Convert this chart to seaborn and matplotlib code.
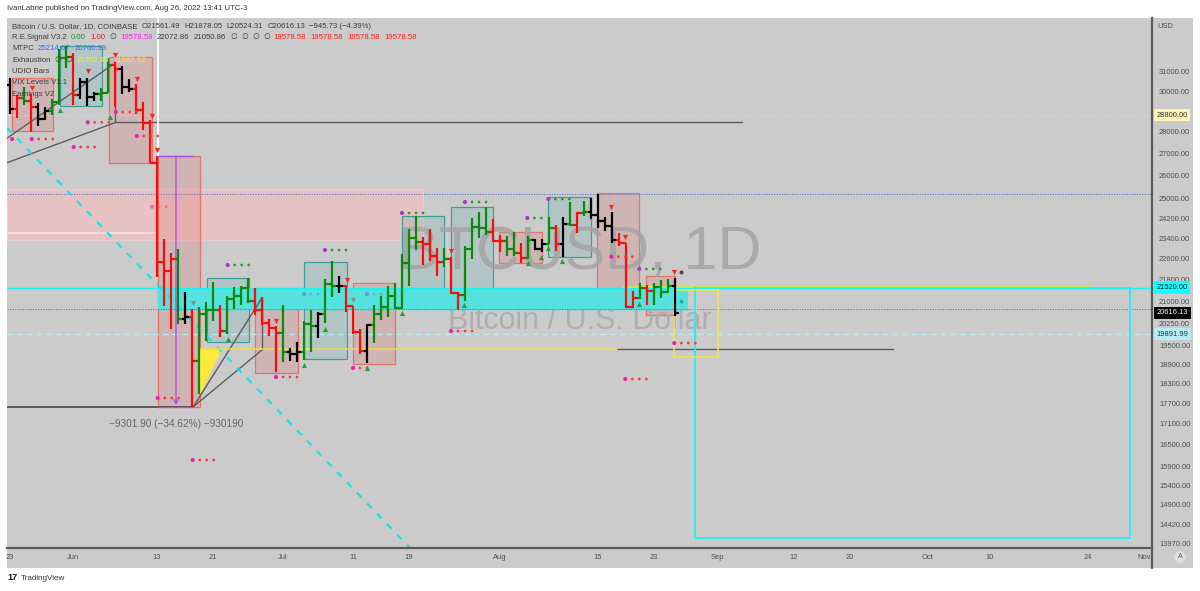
import numpy as np
import pandas as pd
import matplotlib
matplotlib.use("Agg")
import matplotlib.pyplot as plt
import matplotlib.ticker as mticker
import matplotlib.transforms as mtransforms
from matplotlib.patches import Rectangle, Polygon
from matplotlib.lines import Line2D
import seaborn as sns

# ------------------------------------------------------------------ data
BASE = "2022-05-23"
dates = pd.date_range(BASE, "2022-08-26", freq="D")

opens = [30285, 29100, 29650, 29520, 29200, 28620, 29020, 29450, 31730, 31800,
         29800, 30460, 29700, 29850, 29900, 31370, 31140, 30200, 30110, 29080,
         28420, 26580, 22487, 22136, 22583, 20401, 20468, 19018, 20573, 20720,
         20720, 19980, 21110, 21220, 21490, 21040, 20730, 20260, 20100, 19930,
         19290, 19240, 19300, 20240, 20180, 20570, 21640, 21590, 21590, 20860,
         19960, 19320, 20210, 20580, 20830, 21200, 20790, 22430, 23400, 23230,
         23160, 22680, 22460, 22580, 21310, 21250, 22950, 23850, 23780, 23640,
         23300, 23270, 22980, 22820, 22620, 23320, 22960, 23170, 23810, 23160,
         23950, 23940, 24400, 24440, 24310, 24100, 23860, 23340, 23200, 20830,
         21140, 21520, 21400, 21530, 21370, 21561.49]
highs = [30670, 29810, 30200, 29850, 29380, 29200, 29580, 32200, 32400, 31980,
         30650, 30680, 29950, 30150, 31750, 31560, 31320, 30640, 30360, 29440,
         28560, 26895, 23362, 22800, 22980, 21365, 20770, 20810, 21000, 21720,
         20880, 21230, 21540, 21580, 21860, 21500, 21190, 20400, 20180, 20880,
         19430, 19640, 20340, 20730, 20640, 21840, 22500, 21950, 21600, 20870,
         20050, 20250, 20880, 21200, 21580, 21680, 22780, 23760, 24280, 23440,
         23770, 22990, 23010, 22650, 21350, 23100, 24200, 24450, 24660, 24170,
         23500, 23460, 23650, 23220, 23460, 23360, 23380, 24250, 23920, 24230,
         24890, 24450, 24900, 25050, 25210, 24250, 24440, 23600, 23200, 21380,
         21690, 21600, 21680, 21800, 21820, 21878.05]
lows = [28860, 28660, 29320, 28010, 28270, 28560, 28800, 29300, 31200, 29300,
        29580, 29270, 29490, 29490, 29880, 29220, 29850, 29950, 28880, 28100,
        26560, 21925, 20846, 20071, 20238, 20250, 17592, 17960, 19650, 20350,
        19790, 19900, 20740, 20880, 20960, 20530, 20200, 19840, 18640, 18970,
        19000, 18980, 19050, 19310, 19770, 20260, 21190, 21340, 20650, 19880,
        19240, 18930, 19600, 20380, 20480, 20760, 20770, 21580, 22920, 22340,
        22510, 21960, 22280, 21270, 20720, 21040, 22600, 23400, 23520, 23230,
        22850, 22680, 22700, 22440, 22590, 22920, 22860, 23150, 22880, 22670,
        23900, 23600, 24300, 24150, 23790, 23690, 23190, 23100, 20780, 20800,
        21100, 20880, 20900, 21150, 21310, 20524.31]
closes = opens[1:] + [20616.13]

# bar colouring state of the "UDIO Bars" study: g = up, r = down, k = neutral
bar_state = ("krgrkkgggr" "kkkggrkkrrr" "rrrgkrgggr" "ggggrrrrgk" "kggkggkrrr"
             "kgggggggrr" "rgrrggggrr" "ggrgkkgrkg" "rgkkkkrrrg" "rgggk")

# price levels shown on the right scale
price_ticks = [31000, 30000, 28000, 27000, 26000, 25000, 24200, 23400,
               22600, 21800, 21000, 20250, 19500, 18900, 18300, 17700, 17100,
               16500, 15900, 15400, 14900, 14420, 13970]
marked_levels = [28800.00, 21520.00, 20616.13, 19891.99]

# date axis labels
date_ticks = ["2022-05-23", "2022-06-01", "2022-06-13", "2022-06-21", "2022-07-01",
              "2022-07-11", "2022-07-19", "2022-08-01", "2022-08-15", "2022-08-23",
              "2022-09-01", "2022-09-12", "2022-09-20", "2022-10-01", "2022-10-10",
              "2022-10-24", "2022-11-01"]
date_labels = ["23", "Jun", "13", "21", "Jul", "11", "19", "Aug", "15", "23",
               "Sep", "12", "20", "Oct", "10", "24", "Nov"]

# indicator levels
mtpc_levels = [25214.67, 20760.93]
zone_top, zone_bot = 21520.00, 20760.93
supply_top, supply_bot = 25420, 23320
measure_hi, measure_lo = 26881, 17592

# boxes: day-index start, end, top price, bottom price, kind
box_x0 = [0.24, 7.14, 14.14, 21.14, 28.14, 35.0, 42.0, 49.0, 55.96, 63.0, 69.9, 76.9, 83.9, 90.86]
box_x1 = [6.19, 13.14, 20.29, 27.14, 34.14, 41.14, 48.14, 55.0, 62.04, 69.0, 75.96, 82.96, 89.9, 95.0]
box_top = [30672, 32377, 31780, 26881, 21869, 20752, 22469, 21685, 24287, 24672, 23651, 25067, 25237, 21944]
box_bot = [28042, 29253, 26566, 17592, 19626, 18624, 19070, 18909, 20777, 20777, 22420, 22672, 20777, 20543]
box_kind = ["r", "t", "r", "r", "t", "r", "t", "r", "t", "t", "r", "t", "r", "r"]

# signal dot rows: first day, price, kind, count
dot_day = [0.3, 3.1, 9.1, 11.1, 15.1, 18.1, 20.3, 21.1, 31.1, 38.0, 45.0, 49.0, 56.0,
           65.0, 73.9, 63.0, 76.9, 85.9, 89.9, 94.9, 87.9, 26.1, 42.0, 51.0]
dot_price = [27665, 27665, 27293, 28458, 28958, 27806, 24672, 17853, 22356, 18498, 22930,
             18782, 24411, 24869, 24205, 19995, 24995, 22672, 22205, 19590, 18436, 16076,
             21286, 21286]
dot_kind = ["r", "r", "r", "r", "r", "r", "p", "r", "g", "r", "g", "r", "g",
            "g", "g", "r", "g", "r", "g", "r", "r", "r", "b", "b"]
dot_count = [1, 4, 4, 4, 4, 4, 3, 4, 4, 4, 4, 3, 4, 4, 3, 4, 4, 4, 4, 4, 4, 4, 3, 3]

# exhaustion triangles
sell_day = [3.1, 11.1, 15.0, 18.1, 20.3, 21.0, 38.0, 48.1, 63.0, 85.9, 87.9, 94.9]
sell_price = [30157, 31037, 31888, 30620, 28780, 27155, 20336, 21796, 22891, 24672, 23439, 22092]
weak_day = [26.1, 49.0]
weak_price = [20964, 21071]
buy_day = [7.1, 14.3, 31.1, 42.0, 45.0, 51.0, 56.0, 64.9, 74.0, 75.9, 76.9, 78.9, 89.9]
buy_price = [29056, 28714, 19726, 18877, 20062, 18782, 20612, 20894, 22420, 22660, 23008, 22508, 20930]

# drawn trend lines (day, price) pairs
gray_segments = [((-0.43, 27700), (14.6, 31353)),
                 ((15.0, 31353), (15.0, 28458)),
                 ((-0.43, 26578), (15.14, 28458)),
                 ((15.14, 28458), (104.57, 28458)),
                 ((26.19, 17592), (35.96, 21131)),
                 ((26.19, 17592), (36.1, 19385)),
                 ((36.0, 21131), (36.0, 19385)),
                 ((86.71, 19385), (126.14, 19385))]
low_line = ((-0.43, 17592), (26.14, 17592))
diag_line = ((-0.43, 28185), (57.14, 13853))
fib_line = ((27.14, 19385), (86.71, 19385))
fib_tri = [(27.14, 19385), (30.24, 19385), (27.14, 17943)]
target_box = (97.86, 160.0, 21520, 14089)
yellow_box = (94.86, 101.14, 21430, 19134)
lime_line = ((87.57, 21555), (154.14, 21555))
cyan_band_x = (21.14, 96.86)
supply_x = (-0.43, 59.0)

# ------------------------------------------------------------------ style
sns.set_style("white")
plt.rcParams["font.family"] = ["Liberation Sans", "DejaVu Sans"]
plt.rcParams["axes.unicode_minus"] = True

W, H, DPI = 1200, 591, 100
fig = plt.figure(figsize=(W / DPI, H / DPI), dpi=DPI, facecolor="white")


def fx(px):
    return px / W


def fy(py):
    return 1 - py / H


BG = "#cbcbcb"
fig.add_artist(Rectangle((fx(7), fy(568)), fx(1193) - fx(7), fy(18) - fy(568),
                         transform=fig.transFigure, fc=BG, ec="none", zorder=-5))

ax = fig.add_axes([fx(7), fy(548), fx(1152) - fx(7), fy(18) - fy(548)])
ax.set_facecolor(BG)
ax.set_yscale("log")
ax.set_xlim(-0.43, 163.14)
ax.set_ylim(13853, 33947)

base_ts = pd.Timestamp(BASE)
xd = np.array([(d - base_ts).days for d in dates], dtype=float)

# ------------------------------------------------------------ zones / boxes
ax.add_patch(Rectangle((supply_x[0], supply_bot), supply_x[1] - supply_x[0], supply_top - supply_bot,
                       fc="#ffbcbc", alpha=0.55, ec="#f6d3d3", lw=1.0, zorder=1))
ax.plot([supply_x[0], cyan_band_x[0]], [23600, 23600], color="#f4e2e2", lw=1.2, zorder=1.1)

for x0, x1, top, bot, kind in zip(box_x0, box_x1, box_top, box_bot, box_kind):
    if kind == "r":
        fc, ec, a = "#e05a5a", "#e5736a", 0.2
    else:
        fc, ec, a = "#2a9d9d", "#3f9e98", 0.15
    ax.add_patch(Rectangle((x0, bot), x1 - x0, top - bot, fc=fc, alpha=a, ec="none", zorder=1.5))
    ax.add_patch(Rectangle((x0, bot), x1 - x0, top - bot, fc="none", ec=ec, lw=0.9, zorder=1.6))

ax.add_patch(Rectangle((cyan_band_x[0], zone_bot), cyan_band_x[1] - cyan_band_x[0], zone_top - zone_bot,
                       fc="#56e2dc", ec="none", zorder=2))
ax.plot([cyan_band_x[0], cyan_band_x[1]], [zone_bot, zone_bot], color="#1ef0ee", lw=1.0, zorder=2.1)

# watermark
ax.text(0.5, 0.555, "BTCUSD, 1D", transform=ax.transAxes, ha="center", va="center",
        fontsize=44, color="#a4a4a4", alpha=0.85, zorder=1.8)
ax.text(0.5, 0.428, "Bitcoin / U.S. Dollar", transform=ax.transAxes, ha="center", va="center",
        fontsize=22, color="#acacac", alpha=0.9, zorder=1.8)

# horizontal indicator levels
ax.axhline(28800, color="#e9e1a6", lw=0.8, ls=(0, (1, 2)), zorder=2.2)
for lv in mtpc_levels:
    ax.axhline(lv, color="#5b78d8", lw=0.8, ls=(0, (1, 1.3)), zorder=2.2)
ax.axhline(19891.99, color="#b7ecf1", lw=1.0, ls=(0, (4, 3)), zorder=2.2)
ax.axhline(zone_top, color="#18f2f2", lw=1.0, zorder=2.3)
ax.plot([lime_line[0][0], lime_line[1][0]], [lime_line[0][1], lime_line[1][1]],
        color="#c8ec3c", lw=1.2, zorder=2.4)

# drawings
for (a0, a1) in gray_segments:
    ax.plot([a0[0], a1[0]], [a0[1], a1[1]], color="#5d5d5d", lw=1.0, zorder=2.5)
ax.plot([low_line[0][0], low_line[1][0]], [low_line[0][1], low_line[1][1]],
        color="#3c3c3c", lw=1.1, zorder=2.5)
ax.plot([diag_line[0][0], diag_line[1][0]], [diag_line[0][1], diag_line[1][1]],
        color="#19e3e3", lw=1.6, ls=(0, (3, 3.5)), zorder=2.5)
ax.plot([fib_line[0][0], fib_line[1][0]], [fib_line[0][1], fib_line[1][1]],
        color="#f2dc4a", lw=1.1, zorder=2.5)
ax.add_patch(Polygon(fib_tri, closed=True, fc="#ffe83a", ec="none", zorder=2.4))

tx0, tx1, ttop, tbot = target_box
ax.add_patch(Rectangle((tx0, tbot), tx1 - tx0, ttop - tbot, fc="none", ec="#1ef2f2", lw=1.3, zorder=2.6))
yx0, yx1, ytop, ybot = yellow_box
ax.add_patch(Rectangle((yx0, ybot), yx1 - yx0, ytop - ybot, fc="none", ec="#f7e24a", lw=1.1, zorder=2.6))

# measure tool
mx0, mx1 = 21.14, 26.14
mxc = 23.71
ax.plot([mx0, mx0], [measure_hi, 33947], color="#ffffff", lw=1.3, zorder=2.6)
ax.plot([mx0, mx1], [measure_hi, measure_hi], color="#b047e6", lw=0.9, zorder=2.7)
ax.plot([mx0, mx1], [measure_lo, measure_lo], color="#b047e6", lw=0.9, zorder=2.7)
ax.annotate("", xy=(mxc, measure_lo * 1.003), xytext=(mxc, measure_hi),
            arrowprops=dict(arrowstyle="->", color="#b047e6", lw=0.9,
                            shrinkA=0, shrinkB=0, mutation_scale=7), zorder=2.7)
ax.text(mxc, measure_lo * 0.972, "\u22129301.90 (\u221234.62%) \u2212930190", ha="center", va="center",
        fontsize=7.2, color="#666666", zorder=3)

# ------------------------------------------------------------------ OHLC bars
cmap = {"g": "#0a8a0a", "r": "#ff0a0a", "k": "#000000"}
cols = [cmap[s] for s in bar_state]
lw_bar = 1.6
ax.vlines(xd, lows, highs, colors=cols, lw=lw_bar, zorder=5)
ax.hlines(opens, xd - 0.5, xd, colors=cols, lw=lw_bar, zorder=5)
ax.hlines(closes, xd, xd + 0.5, colors=cols, lw=lw_bar, zorder=5)

# ------------------------------------------------------------------ signal markers
dot_first = {"r": "#f01fb0", "g": "#a23bc9", "p": "#f56aa8", "b": "#5d9be0"}
dot_rest = {"r": "#ff3a3a", "g": "#2f9a3d", "p": "#ff6a6a", "b": "#3dbfd0"}
fx_d, fy_d, fc_d, rx_d, ry_d, rc_d = [], [], [], [], [], []
for d, p, k, n in zip(dot_day, dot_price, dot_kind, dot_count):
    fx_d.append(d); fy_d.append(p); fc_d.append(dot_first[k])
    for i in range(1, n):
        rx_d.append(d + i); ry_d.append(p); rc_d.append(dot_rest[k])
sns.scatterplot(x=fx_d, y=fy_d, c=fc_d, s=9, marker="o", linewidth=0, ax=ax, legend=False, zorder=6)
sns.scatterplot(x=rx_d, y=ry_d, c=rc_d, s=4, marker="o", linewidth=0, ax=ax, legend=False, zorder=6)
sns.scatterplot(x=sell_day, y=sell_price, color="#f02a2a", s=14, marker="v", linewidth=0, ax=ax,
                legend=False, zorder=6)
sns.scatterplot(x=weak_day, y=weak_price, color="#8a8a8a", s=14, marker="v", linewidth=0, ax=ax,
                legend=False, zorder=6)
sns.scatterplot(x=buy_day, y=buy_price, color="#2a9a45", s=14, marker="^", linewidth=0, ax=ax,
                legend=False, zorder=6)
sns.scatterplot(x=[95.9], y=[22092], color="#444444", s=8, marker="o", linewidth=0, ax=ax,
                legend=False, zorder=6)
sns.scatterplot(x=[95.9], y=[21035], color="#2aa8a8", s=8, marker="o", linewidth=0, ax=ax,
                legend=False, zorder=6)

# ------------------------------------------------------------------ axes
for s in ["top", "left"]:
    ax.spines[s].set_visible(False)
for s in ["right", "bottom"]:
    ax.spines[s].set_color("#5a5a5a")
    ax.spines[s].set_linewidth(1.6)
ax.grid(False)

ax.yaxis.tick_right()
ax.yaxis.set_major_locator(mticker.FixedLocator(price_ticks))
ax.yaxis.set_major_formatter(mticker.FuncFormatter(lambda v, p: f"{v:.2f}"))
ax.yaxis.set_minor_locator(mticker.NullLocator())
ax.tick_params(axis="y", which="both", length=0, pad=5, labelsize=5.4, labelcolor="#4d4d4d",
               right=True, left=False, labelright=True, labelleft=False)

xt = [(pd.Timestamp(t) - base_ts).days for t in date_ticks]
ax.xaxis.set_major_locator(mticker.FixedLocator(xt))
ax.xaxis.set_major_formatter(mticker.FixedFormatter(date_labels))
ax.xaxis.set_minor_locator(mticker.NullLocator())
ax.tick_params(axis="x", length=0, pad=4, labelsize=5.4, labelcolor="#4d4d4d")

trans = mtransforms.blended_transform_factory(ax.transAxes, ax.transData)
lab_style = {28800.00: ("#fff4b8", "#333333"), 21520.00: ("#10ffff", "#1a1a1a"),
             20616.13: ("#000000", "#ffffff"), 19891.99: ("#b6ecf3", "#333333")}
for lv in marked_levels:
    bgc, tc = lab_style[lv]
    ax.text(1.0 + 4.5 / 1145, lv, f"{lv:.2f}", transform=trans, ha="left", va="center",
            fontsize=5.4, color=tc, clip_on=False, zorder=10,
            bbox=dict(boxstyle="square,pad=0.35", fc=bgc, ec="none"))

fig.text(fx(1157), fy(26), "USD", fontsize=5.4, color="#4d4d4d", ha="left", va="center")
fig.add_artist(Line2D([fx(1152), fx(1152)], [fy(548), fy(568)], color="#5a5a5a", lw=1.6))
fig.text(fx(1180), fy(557), "A", fontsize=5, color="#555555", ha="center", va="center",
         bbox=dict(boxstyle="circle,pad=0.35", fc="#dedede", ec="none"))

# ------------------------------------------------------------------ texts
renderer = fig.canvas.get_renderer()


def rich(x_px, y_px, parts, size=5.6, gap=4.2):
    x = x_px
    for s, c in parts:
        t = fig.text(fx(x), fy(y_px), s, color=c, fontsize=size, ha="left", va="center", zorder=20)
        x += t.get_window_extent(renderer=renderer).width + gap


dark = "#3d3d3d"
fig.text(fx(7), fy(8), "IvanLabrie published on TradingView.com, Aug 26, 2022 13:41 UTC-3",
         fontsize=5.6, color="#333333", ha="left", va="center")
rich(12, 26.7, [("Bitcoin / U.S. Dollar, 1D, COINBASE", dark), ("O21561.49", dark),
                ("H21878.05", dark), ("L20524.31", dark), ("C20616.13", dark),
                ("\u2212945.73 (\u22124.39%)", dark)])
rich(12, 37.7, [("R.E.Signal V3.2", dark), ("0.00", "#12a012"), ("1.00", "#ff1010"),
                ("\u2205", dark), ("19578.58", "#ff20ff"), ("22072.86", dark), ("21050.86", dark),
                ("\u2205", dark), ("\u2205", dark), ("\u2205", dark), ("\u2205", dark),
                ("19578.58", "#ff1a1a"), ("19578.58", "#ff1a1a"), ("19578.58", "#ff1a1a"),
                ("19578.58", "#ff1a1a")])
rich(12, 49.0, [("MTPC", dark), ("25214.67", "#2f6bff"), ("20760.93", "#2f6bff")])
rich(12, 60.7, [("Exhaustion", dark), ("\u2205", dark), ("\u2205", dark),
                ("21392.49", "#ffee33"), ("21562.82", "#ffee33")])
rich(12, 71.7, [("UDIO Bars", dark)])
rich(12, 82.7, [("VIX Levels V1.1", dark)])
rich(12, 94.0, [("Earnings V2", dark)])

fig.text(fx(7), fy(578), "17", fontsize=6.5, fontweight="bold", color="#131722", ha="left", va="center")
fig.text(fx(21), fy(578), "TradingView", fontsize=5.8, color="#333333", ha="left", va="center")

fig.savefig("out.png", dpi=DPI, facecolor="white")
